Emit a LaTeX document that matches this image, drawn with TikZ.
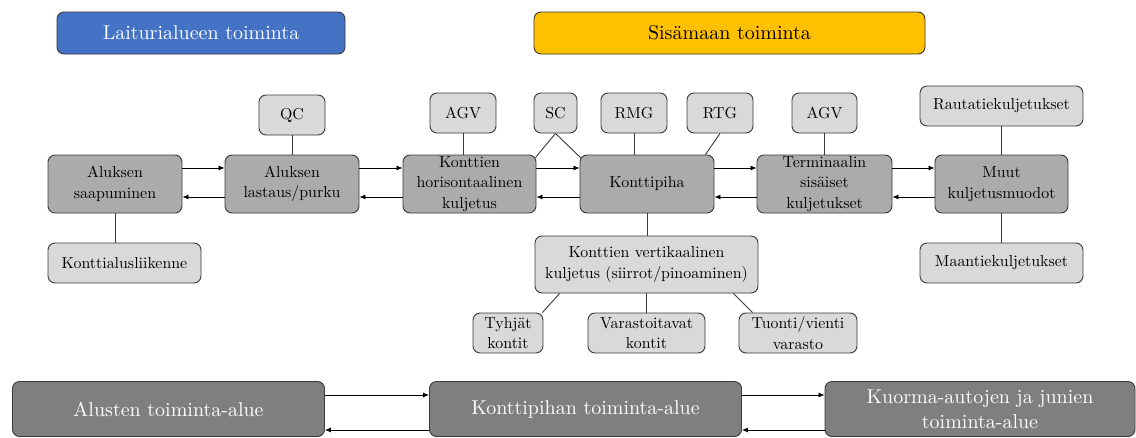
\documentclass[tikz,border=0pt]{standalone}
\usepackage{fontspec}
\setmainfont{lmroman10-regular.otf}
\usetikzlibrary{arrows.meta}
\definecolor{midgray}{HTML}{ABABAB}
\definecolor{lightgray}{HTML}{D9D9D9}
\definecolor{darkgray}{HTML}{7F7F7F}
\definecolor{edgegray}{HTML}{3A3A3A}
\definecolor{hblue}{HTML}{4472C4}
\definecolor{horange}{HTML}{FFC000}
\tikzset{
  box/.style={draw=edgegray, line width=0.9pt, rounded corners=7pt, inner sep=0pt, align=center,
    font=\fontsize{15.9}{20.5}\selectfont},
  mid/.style={box, fill=midgray},
  light/.style={box, fill=lightgray},
  area/.style={box, fill=darkgray, text=white, minimum height=55pt, minimum width=312pt,
    font=\fontsize{20}{25}\selectfont},
  head/.style={box, minimum height=42pt, minimum width=288pt, font=\fontsize{20}{25}\selectfont},
  link/.style={draw=edgegray, line width=0.9pt},
  arr/.style={draw=black, line width=0.8pt, -{Latex[length=6pt,width=5pt]}},
}
\begin{document}
\begin{tikzpicture}[x=1pt,y=-1pt]
\useasboundingbox[fill=white] (0,0) rectangle (1136,437);
% headers
\node[head, fill=hblue, text=white] (lait) at (201,33) {Laiturialueen toiminta};
\node[head, fill=horange, minimum width=391pt] (sisa) at (729.5,33) {Sisämaan toiminta};
% top equipment
\node[light, minimum width=66pt, minimum height=40pt] (qc) at (292,115) {QC};
\node[light, minimum width=66pt, minimum height=40pt] (agv1) at (463,113) {AGV};
\node[light, minimum width=43pt, minimum height=40pt] (sc) at (555.5,113) {SC};
\node[light, minimum width=66pt, minimum height=40pt] (rmg) at (634,113) {RMG};
\node[light, minimum width=66pt, minimum height=40pt] (rtg) at (720,113) {RTG};
\node[light, minimum width=65pt, minimum height=40pt] (agv2) at (824.5,113) {AGV};
\node[light, minimum width=163pt, minimum height=40pt] (rk) at (1001.5,106) {Rautatiekuljetukset};
% main row
\node[mid, minimum width=134pt, minimum height=58pt] (as) at (115,184) {Aluksen\\saapuminen};
\node[mid, minimum width=134pt, minimum height=58pt] (al) at (292,184) {Aluksen\\lastaus/purku};
\node[mid, minimum width=133pt, minimum height=58pt] (hk) at (469.5,184) {Konttien\\horisontaalinen\\kuljetus};
\node[mid, minimum width=134pt, minimum height=58pt] (kp) at (647,184) {Konttipiha};
\node[mid, minimum width=135pt, minimum height=58pt] (tk) at (824.5,184) {Terminaalin\\sisäiset\\kuljetukset};
\node[mid, minimum width=133pt, minimum height=58pt] (mu) at (1001.5,184) {Muut\\kuljetusmuodot};
% lower
\node[light, minimum width=153pt, minimum height=40pt] (ka) at (124.5,263) {Konttialusliikenne};
\node[light, minimum width=223pt, minimum height=57pt] (vk) at (646.5,264.5) {Konttien vertikaalinen\\kuljetus (siirrot/pinoaminen)};
\node[light, minimum width=163pt, minimum height=40pt] (mk) at (1001.5,263) {Maantiekuljetukset};
\node[light, minimum width=70pt, minimum height=40pt] (ty) at (508,333) {Tyhjät\\kontit};
\node[light, minimum width=117pt, minimum height=40pt] (va) at (646.5,333) {Varastoitavat\\kontit};
\node[light, minimum width=118pt, minimum height=40pt] (tv) at (798,333) {Tuonti/vienti\\varasto};
% bottom areas
\node[area] (a1) at (168.5,409) {Alusten toiminta-alue};
\node[area] (a2) at (585.5,409) {Konttipihan toiminta-alue};
\node[area, minimum width=310pt] (a3) at (980,409) {Kuorma-autojen ja junien\\toiminta-alue};
% links
\draw[link] (qc.south) -- (qc.south |- al.north);
\draw[link] (as.south) -- (as.south |- ka.north);
\draw[link] (agv1.south) -- (agv1.south |- hk.north);
\draw[link] (sc.south) -- ([shift={(-1pt,-3pt)}]hk.north east);
\draw[link] (sc.south) -- ([shift={(2pt,-4pt)}]kp.north west);
\draw[link] (rmg.south) -- (rmg.south |- kp.north);
\draw[link] (rtg.south) -- ([xshift=-9pt]kp.north east);
\draw[link] (agv2.south) -- (agv2.south |- tk.north);
\draw[link] (rk.south) -- (rk.south |- mu.north);
\draw[link] (mu.south) -- (mu.south |- mk.north);
\draw[link] (kp.south) -- (kp.south |- vk.north);
\draw[link] ([xshift=25pt]vk.south west) -- ([xshift=-1pt]ty.north east);
\draw[link] (vk.south) -- (vk.south |- va.north);
\draw[link] ([xshift=-25pt]vk.south east) -- ([xshift=14pt]tv.north west);
% arrows main row
\foreach \a/\b in {as/al, al/hk, hk/kp, kp/tk, tk/mu}{
  \draw[arr] ([yshift=16pt]\a.east) -- ([yshift=16pt]\b.west);
  \draw[arr] ([yshift=-13pt]\b.west) -- ([yshift=-13pt]\a.east);
}
% arrows bottom
\foreach \a/\b in {a1/a2, a2/a3}{
  \draw[arr] ([yshift=14pt]\a.east) -- ([yshift=14pt]\b.west);
  \draw[arr] ([yshift=-21pt]\b.west) -- ([yshift=-21pt]\a.east);
}
\end{tikzpicture}
\end{document}
